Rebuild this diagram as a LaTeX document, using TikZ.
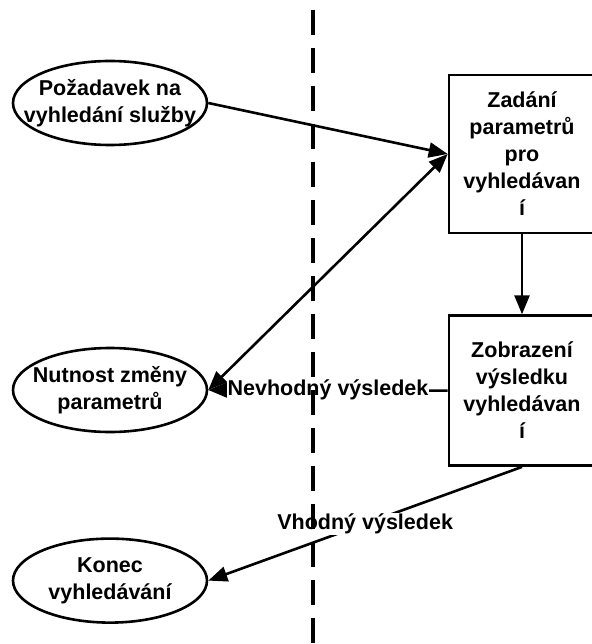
\documentclass[tikz,border=0pt]{standalone}
\usepackage{fontspec}
\setmainfont{Liberation Sans}
\usetikzlibrary{arrows.meta,positioning,shapes.geometric}
\newcommand{\popis}{\fontsize{21.5pt}{27pt}\selectfont\bfseries}

\begin{document}
\begin{tikzpicture}[
    x=1pt, y=-1pt,
    udalost/.style={
        ellipse, draw, line width=2.6pt, align=center,
        minimum width=194pt, minimum height=84pt,
        inner xsep=-30pt, inner ysep=0pt, font=\popis
    },
    krok/.style={
        rectangle, draw, line width=2.6pt, align=center,
        minimum width=146pt, font=\popis
    },
    sipka/.style={-{Triangle[length=19pt,width=15pt]}, line width=2.6pt},
    obousipka/.style={{Triangle[length=19pt,width=15pt]}-{Triangle[length=19pt,width=15pt]}, line width=2.6pt},
    stitek/.style={fill=white, inner sep=1pt, font=\popis}
]
\useasboundingbox (0,0) rectangle (591,644);

% Uzly
\node[udalost] (pozadavek) at (110,103) {Požadavek na\\vyhledání služby};
\node[krok, minimum height=158pt] (zadani) at (522,154) {Zadání\\parametrů\\pro\\vyhledávan\\í};
\node[krok, minimum height=150pt, below=80pt of zadani] (zobrazeni) {Zobrazení\\výsledku\\vyhledávan\\í};
\node[udalost] (nutnost) at (110,390) {Nutnost změny\\parametrů};
\node[udalost, below=104pt of nutnost] (konec) {Konec\\vyhledávání};

% Spojení
\draw[sipka] (pozadavek.east) -- (zadani.west);
\draw[obousipka] (nutnost.east) -- (zadani.west);
\draw[sipka] (zadani) -- (zobrazeni);
\draw[sipka] (zobrazeni.west) -- node[stitek] {Nevhodný výsledek} (nutnost.east);
\draw[sipka] (zobrazeni.south) -- node[stitek] {Vhodný výsledek} (konec.east);

% Hranice
\draw[line width=3.5pt, dash pattern=on 25pt off 13pt, dash phase=28pt] (313,0) -- (313,644);

\end{tikzpicture}
\end{document}
